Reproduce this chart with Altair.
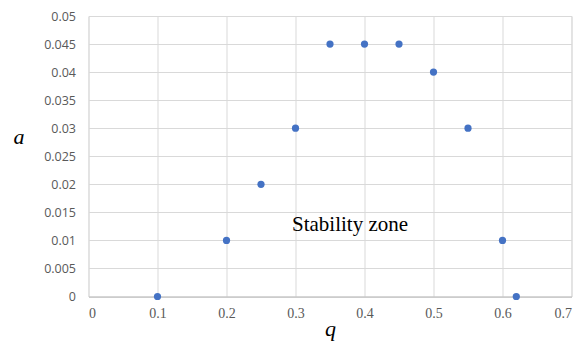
import altair as alt
import pandas as pd

q_vals = [0.1, 0.2, 0.25, 0.3, 0.35, 0.4, 0.45, 0.5, 0.55, 0.6, 0.62]
a_vals = [0.0, 0.01, 0.02, 0.03, 0.045, 0.045, 0.045, 0.04, 0.03, 0.01, 0.0]
x_ticks = [0, 0.1, 0.2, 0.3, 0.4, 0.5, 0.6, 0.7]
y_ticks = [0, 0.005, 0.01, 0.015, 0.02, 0.025, 0.03, 0.035, 0.04, 0.045, 0.05]
note_text = ["Stability zone"]
note_q = [0.379]
note_a = [0.0127]

df = pd.DataFrame({"q": q_vals, "a": a_vals})
notes = pd.DataFrame({"q": note_q, "a": note_a, "t": note_text})

xscale = alt.Scale(domain=[0, 0.7], nice=False, zero=False)
yscale = alt.Scale(domain=[0, 0.05], nice=False, zero=False)

x_axis = alt.Axis(values=x_ticks, format="~g", title="q", ticks=False,
                  labelFont="Liberation Serif", labelFontSize=14, labelColor="#595959",
                  labelPadding=10, labelOverlap=False,
                  domainColor="#bfbfbf", gridColor="#d9d9d9",
                  titleFont="Liberation Serif", titleFontStyle="italic", titleFontWeight="normal",
                  titleFontSize=22, titleColor="#000000",
                  titleBaseline="alphabetic", titleY=38.5)
y_axis = alt.Axis(values=y_ticks, format="~g", title="a", ticks=False,
                  labelFont="Open Sans", labelFontSize=12.5, labelColor="#595959",
                  labelPadding=13, labelOverlap=False, domain=False, gridColor="#d9d9d9",
                  titleFont="Liberation Serif", titleFontStyle="italic", titleFontWeight="normal",
                  titleFontSize=22, titleColor="#000000", titleAngle=0,
                  titleX=-70, titleY=132)

points = alt.Chart(df).mark_circle(size=52, color="#4472C4", opacity=1).encode(
    x=alt.X("q:Q", scale=xscale, axis=x_axis),
    y=alt.Y("a:Q", scale=yscale, axis=y_axis),
)

text = alt.Chart(notes).mark_text(font="Liberation Serif", fontSize=21, color="#000000").encode(
    x=alt.X("q:Q", scale=xscale, axis=x_axis),
    y=alt.Y("a:Q", scale=yscale, axis=y_axis),
    text="t:N",
)

chart = (points + text).properties(
    width=483, height=280.5,
    autosize=alt.AutoSizeParams(type="none"),
    padding={"left": 80.5, "top": 8, "right": 2, "bottom": 48.5},
).configure_view(stroke="#d9d9d9").configure(background="white")

chart.save("out.html", embed_options={"renderer": "svg", "actions": False})
